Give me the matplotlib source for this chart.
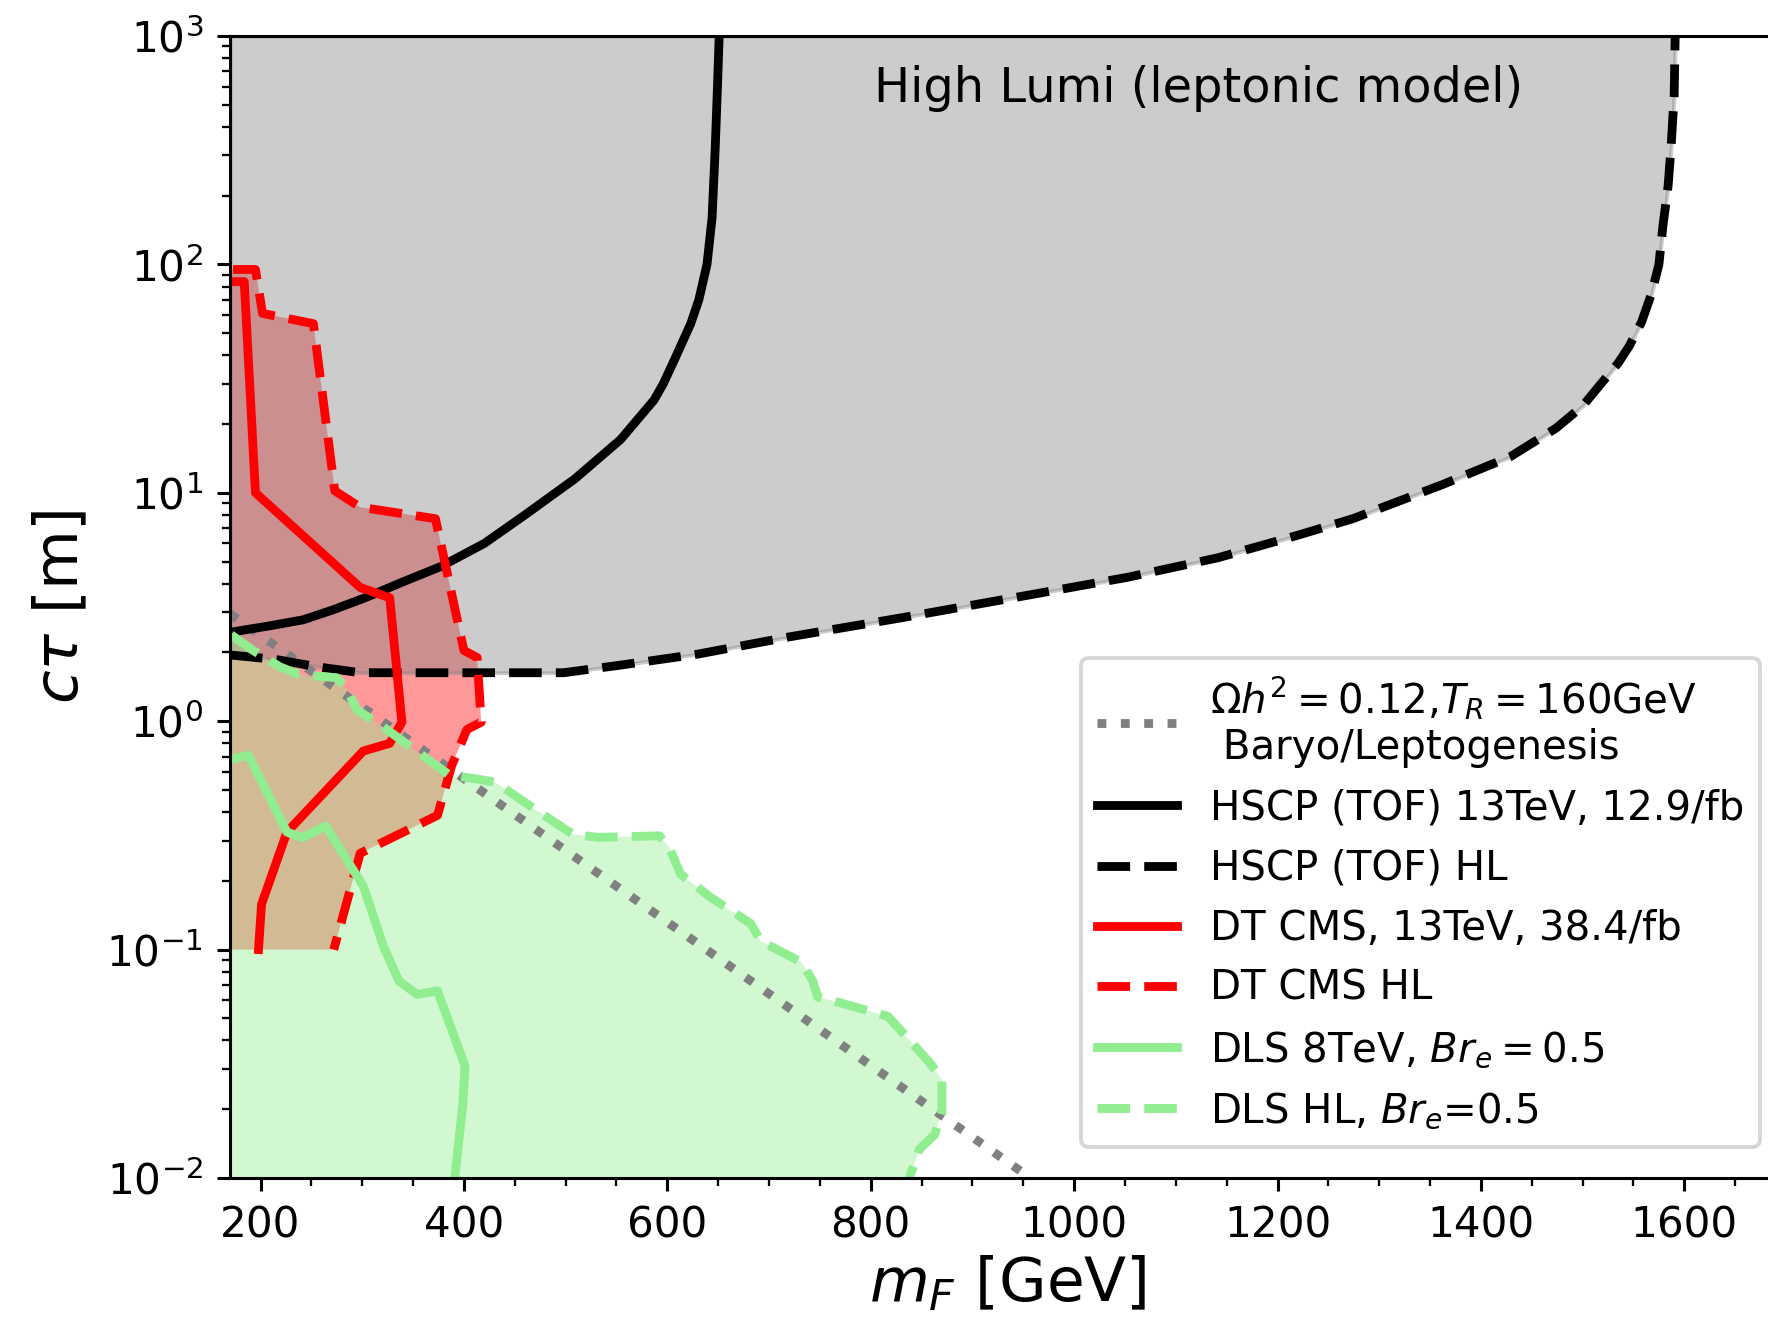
import numpy as np
import matplotlib
matplotlib.use("Agg")
import matplotlib.pyplot as plt

# HSCP (TOF) 13 TeV, 12.9/fb  -- mass [GeV], c*tau [m]
hscp_m = [170, 210, 242, 271, 305, 338, 377, 420, 460, 509, 554, 587, 596, 609, 623, 631, 639, 644, 647, 649, 651]
hscp_ct = [2.45, 2.62, 2.78, 3.07, 3.5, 4.04, 4.75, 6.0, 8.0, 11.5, 17.1, 25.5, 30, 40, 55, 70, 100, 160, 316, 550, 1000]

# HSCP (TOF) HL projection
hscp_hl_m = [170, 216, 256, 298, 387, 498, 554, 631, 720, 831, 942, 1053, 1141, 1219, 1274, 1363,
             1429, 1474, 1500, 1518, 1535, 1546, 1558, 1568, 1575, 1579, 1584, 1587, 1590, 1591]
hscp_hl_ct = [1.95, 1.86, 1.73, 1.63, 1.63, 1.63, 1.76, 1.97, 2.34, 2.84, 3.48, 4.27, 5.19, 6.5,
              7.7, 10.9, 14.4, 19.2, 24, 30, 37, 44, 56, 75, 100, 148, 220, 328, 550, 1000]

# disappearing tracks, CMS 13 TeV 38.4/fb
dt_m = [172, 184, 195, 298, 327, 339, 327, 301, 226, 201, 198]
dt_ct = [84, 84, 10, 3.85, 3.47, 0.99, 0.80, 0.74, 0.327, 0.158, 0.1]

# disappearing tracks, CMS HL projection
dt_hl_m = [173, 195, 202, 252, 273, 298, 372, 400, 413, 417, 403, 388, 374, 298, 272]
dt_hl_ct = [95, 95, 61, 55, 10.2, 8.65, 7.7, 2.04, 1.9, 0.99, 0.92, 0.64, 0.387, 0.264, 0.1]

# displaced leptons 8 TeV, Br_e = 0.5
dls_m = [171, 188, 226, 241, 264, 301, 321, 336, 354, 374, 401, 399, 391]
dls_ct = [0.68, 0.71, 0.327, 0.309, 0.347, 0.19, 0.103, 0.073, 0.0636, 0.066, 0.031, 0.0212, 0.01]

# displaced leptons HL, Br_e = 0.5
dls_hl_m = [171, 192, 219, 238, 275, 285, 295, 324, 386, 411, 431, 467, 507, 532, 592, 602, 613,
            642, 682, 692, 732, 743, 748, 773, 817, 858, 870, 870, 863, 848, 838]
dls_hl_ct = [2.39, 2.05, 1.73, 1.6, 1.55, 1.37, 1.12, 0.92, 0.58, 0.56, 0.54, 0.42, 0.32, 0.31,
             0.315, 0.28, 0.214, 0.17, 0.13, 0.109, 0.088, 0.073, 0.062, 0.058, 0.051, 0.032,
             0.027, 0.0196, 0.0155, 0.0134, 0.01]

# relic abundance line, Omega h^2 = 0.12, T_R = 160 GeV
relic_m = [170, 957]
relic_ct = [2.95, 0.01]

xmin, xmax = 170, 1700
ymin, ymax = 1e-2, 1e3
dt_floor = 0.1

fig = plt.figure(figsize=(1768 / 276, 1323 / 276), dpi=276)
ax = fig.add_axes([0.1301, 0.1096, 0.8801, 0.8632])

# shaded exclusion regions
ax.fill(dt_hl_m + [xmin, xmin], dt_hl_ct + [dt_floor, dt_hl_ct[0]], color="red", alpha=0.4, lw=0)
ax.fill_between(hscp_hl_m, hscp_hl_ct, ymax, color="gray", alpha=0.4)
ax.fill(dls_hl_m + [xmin, xmin], dls_hl_ct + [ymin, dls_hl_ct[0]], color="lightgreen", alpha=0.4, lw=0)

lw = 2.3
ax.plot(relic_m, relic_ct, ls=":", color="gray", lw=lw,
        label="$\\Omega h^2 = 0.12$,$T_R = 160$GeV\n Baryo/Leptogenesis")
ax.plot(hscp_m, hscp_ct, "-", color="black", lw=lw, label="HSCP (TOF) 13TeV, 12.9/fb")
ax.plot(hscp_hl_m, hscp_hl_ct, "--", color="black", lw=lw, label="HSCP (TOF) HL")
ax.plot(dt_m, dt_ct, "-", color="red", lw=lw, label="DT CMS, 13TeV, 38.4/fb")
ax.plot(dt_hl_m, dt_hl_ct, "--", color="red", lw=lw, label="DT CMS HL")
ax.plot(dls_m, dls_ct, "-", color="lightgreen", lw=lw, label="DLS 8TeV, $Br_e = 0.5$")
ax.plot(dls_hl_m, dls_hl_ct, "--", color="lightgreen", lw=lw, label="DLS HL, $Br_e$=0.5")

ax.set_yscale("log")
ax.set_xlim(xmin, xmax)
ax.set_ylim(ymin, ymax)
ax.set_xticks([200, 400, 600, 800, 1000, 1200, 1400, 1600])
ax.xaxis.set_minor_locator(matplotlib.ticker.MultipleLocator(50))
ax.tick_params(labelsize=11)

ax.set_xlabel("$m_F$ [GeV]", fontsize=16, labelpad=2)
ax.set_ylabel("$c\\tau$ [m]", fontsize=16)
ax.text(803, 590, "High Lumi (leptonic model)", fontsize=12.5, va="center")

ax.legend(loc="lower right", bbox_to_anchor=(0.9955, 0.133), bbox_transform=fig.transFigure,
          borderaxespad=0, fontsize=10.5)

plt.savefig("out.png", dpi=276)
